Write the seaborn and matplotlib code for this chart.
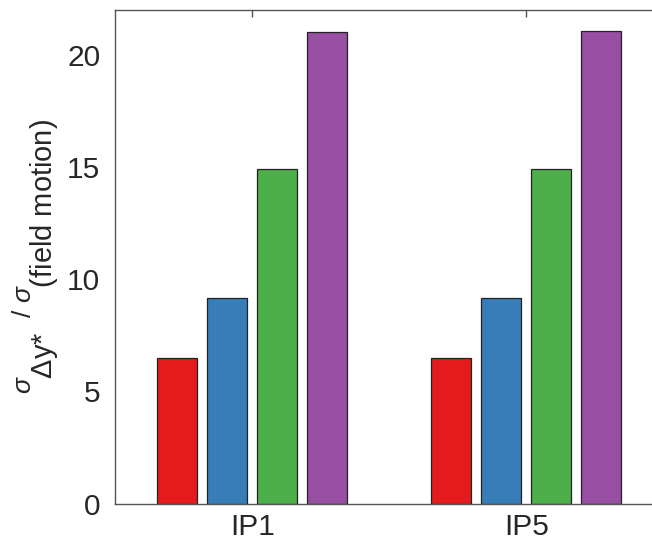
import matplotlib
matplotlib.use("Agg")
import matplotlib.pyplot as plt
import matplotlib._mathtext as mathtext_internals
import seaborn as sns
import pandas as pd

# Ratio of the Δy* spread to the field-motion spread, per interaction point
ip_labels = ["IP1", "IP5"]
series_names = ["s1", "s2", "s3", "s4"]
ip1_values = [6.5, 9.15, 14.9, 21.05]
ip5_values = [6.5, 9.15, 14.9, 21.1]
bar_colors = ["#E41A1C", "#377EB8", "#4DAF4A", "#984EA3"]
y_ticks = [0, 5, 10, 15, 20]

df = pd.DataFrame({
    "ip": [ip_labels[0]] * 4 + [ip_labels[1]] * 4,
    "series": series_names * 2,
    "value": ip1_values + ip5_values,
})

sns.set_theme(style="white")
plt.rcParams["font.family"] = ["Liberation Sans", "DejaVu Sans"]
plt.rcParams["mathtext.fontset"] = "custom"
plt.rcParams["mathtext.rm"] = "Liberation Sans"
plt.rcParams["mathtext.it"] = "Liberation Sans:italic"
# slightly enlarged, deeply lowered subscripts in the axis label
mathtext_internals.SHRINK_FACTOR = 1.1
mathtext_internals.FontConstantsBase.sub1 = 1.55
mathtext_internals.FontConstantsBase.sub2 = 1.55

fig = plt.figure(figsize=(6.52, 5.41), dpi=100)
ax = fig.add_axes([0.1771, 0.0693, 0.8405, 0.9116])

sns.barplot(data=df, x="ip", y="value", hue="series", order=ip_labels,
            hue_order=series_names, palette=bar_colors, saturation=1,
            width=0.73, gap=0.2, edgecolor="#222222", linewidth=0.9,
            legend=False, ax=ax, errorbar=None)

ax.set_xlim(-0.5, 1.5)
ax.set_ylim(0, 22)
ax.set_yticks(y_ticks)
ax.set_xlabel("")
ax.set_ylabel(r"$\sigma_{\text{Δy*}}\ \ /\ \sigma_{\text{(field motion)}}$",
              fontsize=19, color="#262626")
ax.yaxis.set_label_coords(-0.098, 0.5)

for side in ["top", "left", "bottom", "right"]:
    ax.spines[side].set_color("#555555")
    ax.spines[side].set_linewidth(1.0)

ax.tick_params(direction="in", top=True, right=True, length=5, width=1,
               color="#555555", labelsize=21.5, labelcolor="#262626")
ax.tick_params(axis="y", pad=11)
ax.tick_params(axis="x", pad=7)

fig.savefig("out.png", dpi=100)
